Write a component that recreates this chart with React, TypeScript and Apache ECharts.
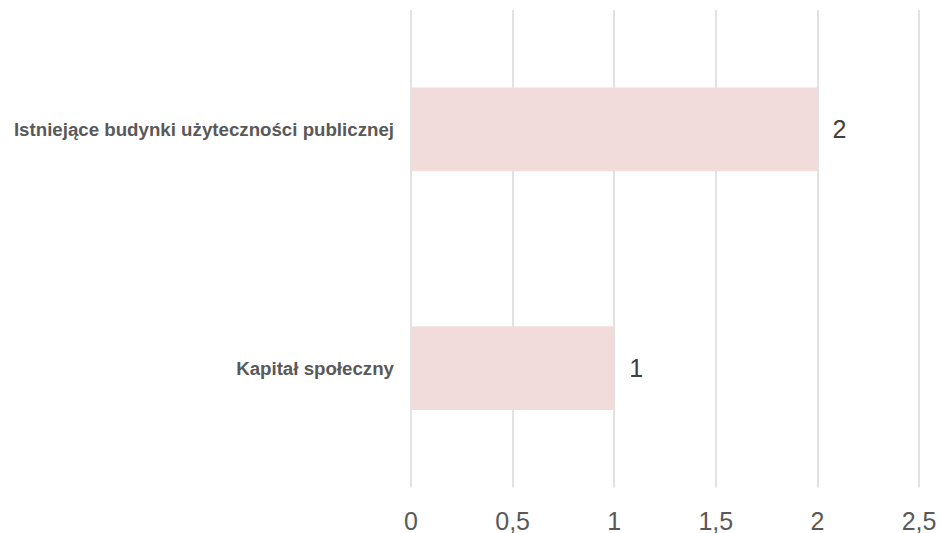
import React, { useEffect, useRef } from "react";
import * as echarts from "echarts";

const categories = ["Kapitał społeczny", "Istniejące budynki użyteczności publicznej"];
const values = [1, 2];
const xTicks = { min: 0, max: 2.5, interval: 0.5 };

const FONT = "'Liberation Sans', Arial, Helvetica, sans-serif";

export default function App() {
  const ref = useRef<HTMLDivElement>(null);
  useEffect(() => {
    const chart = echarts.init(ref.current!, null, { renderer: "svg" });
    chart.setOption({
      animation: false,
      grid: { left: 411, right: 21, top: 10, bottom: 44, containLabel: false },
      xAxis: {
        type: "value",
        min: xTicks.min,
        max: xTicks.max,
        interval: xTicks.interval,
        axisLine: { show: false },
        axisTick: { show: false },
        splitLine: { show: true, lineStyle: { color: "#d9d9d9", width: 1.5 } },
        axisLabel: {
          color: "#595959",
          fontSize: 25,
          lineHeight: 20,
          fontFamily: FONT,
          margin: 23,
          formatter: (v: number) => String(v).replace(".", ","),
        },
      },
      yAxis: {
        type: "category",
        data: categories,
        axisLine: { show: false },
        axisTick: { show: false },
        splitLine: { show: false },
        axisLabel: {
          color: "#595959",
          fontSize: 18.7,
          fontWeight: "bold",
          fontFamily: FONT,
          margin: 17,
        },
      },
      series: [
        {
          type: "bar",
          data: values,
          barWidth: "35%",
          itemStyle: { color: "#f2dcdb" },
          label: {
            show: true,
            position: "right",
            distance: 15,
            color: "#404040",
            fontSize: 25,
            fontFamily: FONT,
          },
        },
      ],
    });
    return () => chart.dispose();
  }, []);
  return (
    <div
      ref={ref}
      style={{ position: "fixed", left: 0, top: 0, width: 940, height: 533, background: "#fff" }}
    />
  );
}
